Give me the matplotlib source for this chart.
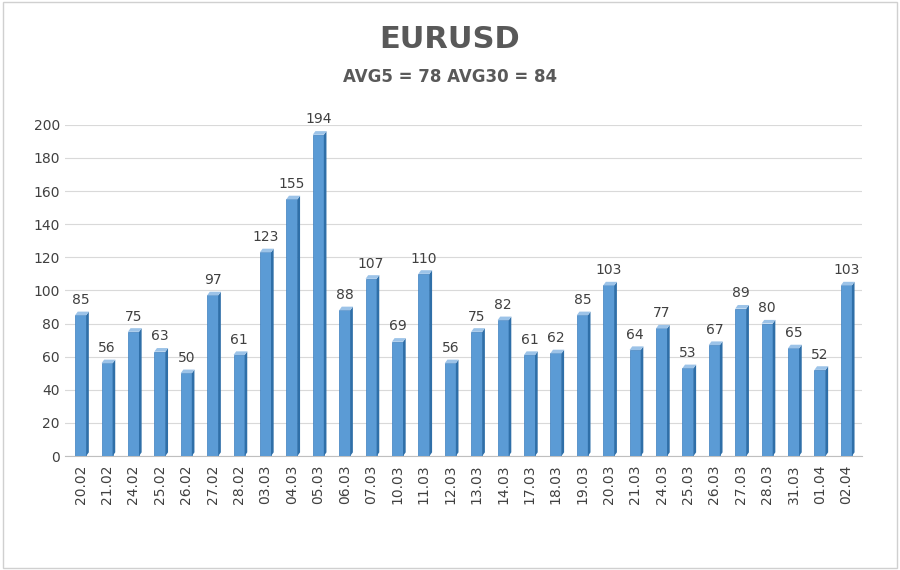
import matplotlib
matplotlib.use("Agg")
import matplotlib.pyplot as plt
from matplotlib.patches import Polygon, Rectangle
import numpy as np

dates = ["20.02", "21.02", "24.02", "25.02", "26.02", "27.02", "28.02", "03.03", "04.03", "05.03",
         "06.03", "07.03", "10.03", "11.03", "12.03", "13.03", "14.03", "17.03", "18.03", "19.03",
         "20.03", "21.03", "24.03", "25.03", "26.03", "27.03", "28.03", "31.03", "01.04", "02.04"]
values = [85, 56, 75, 63, 50, 97, 61, 123, 155, 194,
          88, 107, 69, 110, 56, 75, 82, 61, 62, 85,
          103, 64, 77, 53, 67, 89, 80, 65, 52, 103]
title = "EURUSD"
subtitle = "AVG5 = 78 AVG30 = 84"

fig = plt.figure(figsize=(9, 5.7), dpi=100)
fig.patches.append(Rectangle((0.003, 0.004), 0.994, 0.992, transform=fig.transFigure,
                             fill=False, ec="#d0d0d0", lw=1))
ax = fig.add_axes([0.072, 0.2, 0.886, 0.581])

x = np.arange(len(values))
w = 0.42
dx, dy = 0.1, 2.2
front, side, top = "#5b9bd5", "#2f6fa8", "#9cc3e8"
ax.bar(x, values, width=w, color=front, edgecolor="#3d7fbf", lw=0.5, zorder=3)
for xi, v in zip(x, values):
    r = xi + w / 2
    ax.add_patch(Polygon([(r, 0), (r + dx, dy), (r + dx, v + dy), (r, v)],
                         closed=True, fc=side, ec="none", zorder=3))
    ax.add_patch(Polygon([(xi - w / 2, v), (r, v), (r + dx, v + dy), (xi - w / 2 + dx, v + dy)],
                         closed=True, fc=top, ec="none", zorder=3))
    ax.text(xi, v + 5, str(v), ha="center", va="bottom", fontsize=10, color="#404040", zorder=4)

ax.set_xlim(-0.6, len(values) - 0.4)
ax.set_ylim(0, 200)
ax.set_yticks(range(0, 201, 20))
ax.set_xticks(x)
ax.set_xticklabels(dates, rotation=90, fontsize=10, color="#404040")
ax.tick_params(axis="y", labelsize=10, colors="#404040", length=0)
ax.tick_params(axis="x", length=0, pad=6)
ax.grid(axis="y", color="#d9d9d9", lw=0.8, zorder=0)
for s in ["top", "right", "left"]:
    ax.spines[s].set_visible(False)
ax.spines["bottom"].set_color("#bfbfbf")

fig.text(0.5, 0.93, title, ha="center", va="center", fontsize=22, fontweight="bold", color="#595959")
fig.text(0.5, 0.865, subtitle, ha="center", va="center", fontsize=12, fontweight="bold", color="#595959")

fig.savefig("out.png", dpi=100)
